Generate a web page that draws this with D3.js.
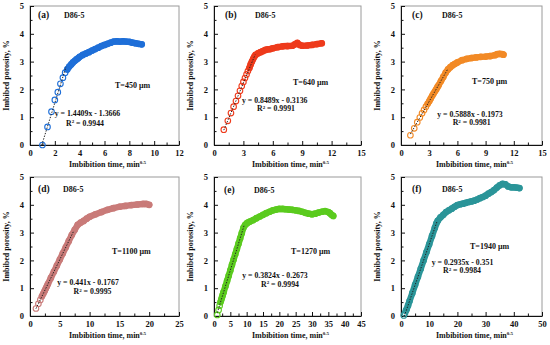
<!DOCTYPE html>
<html>
<head>
<meta charset="utf-8">
<script src="https://cdn.jsdelivr.net/npm/d3@7"></script>
<style>
    body { margin: 0; background: #fff; }
    svg text { font-family: "Liberation Serif", "Times New Roman", serif; font-weight: bold; fill: #111; }
</style>
</head>
<body>
<div id="chart"></div>
<script>
// ---------- data ----------
const panelIds = ["(a)", "(b)", "(c)", "(d)", "(e)", "(f)"];
const sampleName = "D86-5";
const thicknessLabels = ["T=450 μm", "T=640 μm", "T=750 μm", "T=1100 μm", "T=1270 μm", "T=1940 μm"];
const fitSlopes = [1.4409, 0.8489, 0.5888, 0.441, 0.3824, 0.2935];
const fitIntercepts = [-1.3666, -0.3136, -0.1973, -0.1767, -0.2673, -0.351];
const fitEquations = ["y = 1.4409x - 1.3666", "y = 0.8489x - 0.3136", "y = 0.5888x - 0.1973",
    "y = 0.441x - 0.1767", "y = 0.3824x - 0.2673", "y = 0.2935x - 0.351"];
const fitR2 = ["0.9944", "0.9991", "0.9981", "0.9995", "0.9994", "0.9984"];
const fitRanges = [[0.95, 2.9], [1, 4.2], [1, 5], [1, 7.3], [1, 9.3], [1.2, 12.8]];
const seriesColors = ["#1f6fd8", "#ee3b1c", "#f28a26", "#c97b79", "#5bcb1f", "#2b9599"];
const xTickValues = [
    [0, 2, 4, 6, 8, 10, 12],
    [0, 3, 6, 9, 12, 15],
    [0, 3, 6, 9, 12, 15],
    [0, 5, 10, 15, 20, 25],
    [0, 5, 10, 15, 20, 25, 30, 35, 40, 45],
    [0, 10, 20, 30, 40, 50]
];
const yTickValues = [0, 1, 2, 3, 4, 5];

// (a) T=450 um : separate circles, then the dense run
const aOpenX = [1, 1.41, 1.73, 2, 2.24, 2.45, 2.65, 2.83];
const aOpenY = [0, 0.65, 1.2, 1.62, 1.9, 2.2, 2.42, 2.6];
const aBandX = [3, 3.16, 3.32, 3.46, 3.61, 3.74, 3.87, 4, 4.25, 4.5, 4.75, 5, 5.25, 5.5, 5.75, 6,
    6.25, 6.5, 6.75, 7, 7.25, 7.5, 7.75, 8, 8.25, 8.5, 8.75, 9];
const aBandY = [2.72, 2.82, 2.9, 2.97, 3.03, 3.08, 3.12, 3.17, 3.24, 3.29, 3.34, 3.4, 3.45, 3.5, 3.56, 3.6,
    3.64, 3.68, 3.72, 3.73, 3.72, 3.73, 3.72, 3.71, 3.68, 3.66, 3.64, 3.62];

// (b) T=640 um
const bOpenX = [1, 1.41, 1.73, 2, 2.24, 2.45, 2.65, 2.83, 3, 3.16, 3.32, 3.46];
const bOpenY = [0.55, 0.87, 1.15, 1.38, 1.58, 1.77, 1.95, 2.12, 2.27, 2.41, 2.54, 2.66];
const bBandX = [3.61, 3.74, 3.87, 4, 4.12, 4.24, 4.5, 4.75, 5, 5.25, 5.5, 5.75, 6, 6.5, 7, 7.5, 8,
    8.25, 8.5, 8.75, 9, 9.5, 10, 10.5, 11];
const bBandY = [2.77, 2.9, 3.0, 3.1, 3.18, 3.24, 3.3, 3.34, 3.38, 3.42, 3.44, 3.45, 3.48, 3.52, 3.55, 3.56, 3.57,
    3.62, 3.67, 3.6, 3.57, 3.58, 3.6, 3.63, 3.66];

// (c) T=750 um
const cOpenX = [1, 1.41, 1.73, 2, 2.24, 2.45, 2.65];
const cOpenY = [0.35, 0.6, 0.82, 0.99, 1.14, 1.26, 1.38];
const cBandX = [2.83, 3, 3.16, 3.32, 3.46, 3.61, 3.74, 3.87, 4, 4.25, 4.5, 4.75, 5, 5.25, 5.5, 5.75, 6,
    6.5, 7, 7.5, 8, 8.5, 9, 9.5, 10, 10.25, 10.5, 10.75, 10.9];
const cBandY = [1.48, 1.57, 1.67, 1.77, 1.85, 1.93, 2.0, 2.08, 2.15, 2.3, 2.45, 2.6, 2.72, 2.8, 2.87, 2.92, 2.97,
    3.05, 3.1, 3.13, 3.15, 3.17, 3.18, 3.2, 3.23, 3.27, 3.28, 3.27, 3.25];

// (d) T=1100 um
const dOpenX = [1, 1.41, 1.73];
const dOpenY = [0.27, 0.44, 0.58];
const dBandX = [2, 2.24, 2.45, 2.65, 2.83, 3, 3.5, 4, 4.5, 5, 5.5, 6, 6.5, 7, 7.5, 8, 8.5, 9, 9.5, 10,
    11, 12, 13, 14, 15, 16, 17, 18, 19, 19.5, 20];
const dBandY = [0.71, 0.81, 0.9, 0.99, 1.07, 1.15, 1.37, 1.59, 1.81, 2.03, 2.25, 2.47, 2.69, 2.91, 3.1, 3.28,
    3.36, 3.42, 3.5, 3.57, 3.66, 3.74, 3.82, 3.88, 3.93, 3.96, 3.99, 4.01, 4.03, 4.03, 4.0];

// (e) T=1270 um
const eOpenX = [1, 1.41, 1.73];
const eOpenY = [0.04, 0.22, 0.37];
const eBandX = [2, 2.24, 2.45, 2.65, 2.83, 3, 3.5, 4, 4.5, 5, 5.5, 6, 6.5, 7, 7.5, 8, 8.5, 9, 9.5, 10,
    10.5, 11, 12, 13, 14, 15, 16, 17, 18, 19, 20, 21, 22, 23, 24, 25, 26, 27, 28, 29, 30, 31, 32, 33, 34,
    35, 35.5, 36, 36.5];
const eBandY = [0.5, 0.59, 0.67, 0.75, 0.82, 0.88, 1.07, 1.26, 1.45, 1.64, 1.84, 2.03, 2.22, 2.41, 2.6, 2.79,
    2.98, 3.17, 3.27, 3.33, 3.37, 3.4, 3.45, 3.52, 3.58, 3.64, 3.7, 3.75, 3.8, 3.83, 3.85, 3.85, 3.84, 3.83,
    3.82, 3.8, 3.78, 3.75, 3.71, 3.68, 3.66, 3.68, 3.72, 3.75, 3.77, 3.74, 3.7, 3.64, 3.6];

// (f) T=1940 um
const fOpenX = [1, 1.41, 1.73];
const fOpenY = [0.02, 0.1, 0.19];
const fBandX = [2, 2.5, 3, 4, 5, 6, 7, 8, 9, 10, 11, 12, 12.5, 13, 14, 15, 16, 17, 18, 19, 20, 21, 22,
    23, 24, 25, 26, 27, 28, 29, 30, 31, 32, 33, 34, 35, 36, 37, 38, 39, 40, 41, 42];
const fBandY = [0.24, 0.38, 0.53, 0.82, 1.12, 1.41, 1.7, 2.0, 2.29, 2.58, 2.88, 3.17, 3.32, 3.42, 3.55, 3.64,
    3.74, 3.8, 3.86, 3.93, 3.99, 4.02, 4.04, 4.07, 4.1, 4.12, 4.15, 4.19, 4.24, 4.28, 4.33, 4.4, 4.46, 4.53,
    4.62, 4.7, 4.75, 4.74, 4.66, 4.63, 4.63, 4.62, 4.6];

const openX = [aOpenX, bOpenX, cOpenX, dOpenX, eOpenX, fOpenX];
const openY = [aOpenY, bOpenY, cOpenY, dOpenY, eOpenY, fOpenY];
const bandX = [aBandX, bBandX, cBandX, dBandX, eBandX, fBandX];
const bandY = [aBandY, bBandY, cBandY, dBandY, eBandY, fBandY];

// ---------- layout (pixels) ----------
const frames = [
    {left: 30, right: 179, top: 6, bottom: 145},
    {left: 214, right: 361, top: 6, bottom: 145},
    {left: 401, right: 542, top: 6, bottom: 145},
    {left: 30, right: 179, top: 177, bottom: 316},
    {left: 214, right: 361, top: 177, bottom: 316},
    {left: 401, right: 542, top: 177, bottom: 316}
];
// offsets from the frame's left/top corner
const idPos = [[8, 12], [11, 12], [11, 12], [8, 15], [10, 16], [11, 15]];
const namePos = [[34, 12], [41, 12], [41, 12], [33, 15], [40, 16], [41, 15]];
const thickPos = [[85, 82], [79, 78.5], [71, 78], [82, 77], [77, 77], [69, 72]];
const eqPos = [[57.5, 109.5], [60.7, 96.5], [69, 110.8], [58, 108.2], [61, 101.2], [61.5, 87.8]];
const r2Pos = [[55, 119.5], [62, 105], [70.7, 119], [62.5, 117], [66, 109.7], [61, 96.3]];


class ImbibitionPanel {
    constructor(svg, i) {
        this.svg = svg;
        this.i = i;
        this.frame = frames[i];

        this.initVis();
    }

    initVis() {
        let vis = this;
        let f = vis.frame, i = vis.i;

        vis.g = vis.svg.append("g");

        let xTicks = xTickValues[i];
        vis.xScale = d3.scaleLinear().domain([0, d3.max(xTicks)]).range([f.left, f.right]);
        vis.yScale = d3.scaleLinear().domain([0, 5]).range([f.bottom, f.top]);

        // grey box first, black axes over it
        vis.g.append("rect")
            .attr("x", f.left).attr("y", f.top)
            .attr("width", f.right - f.left).attr("height", f.bottom - f.top)
            .attr("fill", "none").attr("stroke", "#9a9a9a").attr("stroke-width", 1);

        let step = xTicks[1] - xTicks[0];
        let xMinor = d3.range(step / 2, d3.max(xTicks), step);
        let yMinor = d3.range(0.5, 5, 1);

        vis.g.append("g")
            .attr("transform", `translate(0,${f.bottom})`)
            .call(d3.axisBottom(vis.xScale).tickValues(xMinor).tickSizeInner(-2.5).tickSizeOuter(0).tickFormat(""))
            .call(g => g.select(".domain").remove());
        vis.g.append("g")
            .attr("transform", `translate(${f.left},0)`)
            .call(d3.axisLeft(vis.yScale).tickValues(yMinor).tickSizeInner(-2.5).tickSizeOuter(0).tickFormat(""))
            .call(g => g.select(".domain").remove());

        vis.xAxis = vis.g.append("g")
            .attr("class", "x axis")
            .attr("transform", `translate(0,${f.bottom})`)
            .call(d3.axisBottom(vis.xScale).tickValues(xTicks).tickFormat(d3.format("d"))
                .tickSizeInner(-4).tickSizeOuter(0).tickPadding(5));
        vis.yAxis = vis.g.append("g")
            .attr("class", "y axis")
            .attr("transform", `translate(${f.left},0)`)
            .call(d3.axisLeft(vis.yScale).tickValues(yTickValues).tickFormat(d3.format("d"))
                .tickSizeInner(-4).tickSizeOuter(0).tickPadding(6));

        vis.g.selectAll(".axis text")
            .attr("font-size", 8.5)
            .attr("font-family", null);
        vis.g.selectAll(".axis path, .axis line, .tick line").attr("stroke", "#111");

        // axis titles
        let xt = vis.g.append("text")
            .attr("x", (f.left + f.right) / 2 + 3)
            .attr("y", f.bottom + 21.5)
            .attr("text-anchor", "middle")
            .attr("font-size", 8)
            .text("Imbibition time, min");
        xt.append("tspan").attr("dy", -3).attr("font-size", 5).text("0.5");

        vis.g.append("text")
            .attr("transform", `translate(${f.left - 21},${(f.top + f.bottom) / 2}) rotate(-90)`)
            .attr("text-anchor", "middle")
            .attr("font-size", 8)
            .text("Imbibed porosity, %");

        vis.drawData();
        vis.drawLabels();
    }

    drawData() {
        let vis = this;
        let i = vis.i;
        let color = seriesColors[i];

        let open = openX[i].map((x, k) => ({x: x, y: openY[i][k]}));
        let band = bandX[i].map((x, k) => ({x: x, y: bandY[i][k]}));

        let line = d3.line()
            .x(d => vis.xScale(d.x))
            .y(d => vis.yScale(d.y));

        // the dense run of overlapping circles reads as a thick band
        vis.g.append("path")
            .datum(band)
            .attr("d", line)
            .attr("fill", "none")
            .attr("stroke", color)
            .attr("stroke-width", 6.4)
            .attr("stroke-linecap", "round")
            .attr("stroke-linejoin", "round");

        vis.g.selectAll(".pt")
            .data(open.concat(band))
            .enter().append("circle")
            .attr("class", "pt")
            .attr("cx", d => vis.xScale(d.x))
            .attr("cy", d => vis.yScale(d.y))
            .attr("r", 2.8)
            .attr("fill", "none")
            .attr("stroke", color)
            .attr("stroke-width", 1.1);

        // linear fit, dotted
        let fit = fitRanges[i].map(x => ({x: x, y: fitSlopes[i] * x + fitIntercepts[i]}));
        vis.g.append("path")
            .datum(fit)
            .attr("d", line)
            .attr("fill", "none")
            .attr("stroke", "#222")
            .attr("stroke-width", 1)
            .attr("stroke-dasharray", "1.4,1.4");
    }

    drawLabels() {
        let vis = this;
        let f = vis.frame, i = vis.i;

        vis.g.append("text")
            .attr("x", f.left + idPos[i][0]).attr("y", f.top + idPos[i][1])
            .attr("font-size", 9.5)
            .text(panelIds[i]);
        vis.g.append("text")
            .attr("x", f.left + namePos[i][0]).attr("y", f.top + namePos[i][1])
            .attr("font-size", 8)
            .text(sampleName);
        vis.g.append("text")
            .attr("x", f.left + thickPos[i][0]).attr("y", f.top + thickPos[i][1])
            .attr("font-size", 8)
            .text(thicknessLabels[i]);
        vis.g.append("text")
            .attr("x", f.left + eqPos[i][0]).attr("y", f.top + eqPos[i][1])
            .attr("text-anchor", "middle")
            .attr("font-size", 7.8)
            .text(fitEquations[i]);
        let r2 = vis.g.append("text")
            .attr("x", f.left + r2Pos[i][0]).attr("y", f.top + r2Pos[i][1])
            .attr("text-anchor", "middle")
            .attr("font-size", 7.8)
            .text("R");
        r2.append("tspan").attr("dy", -2.5).attr("font-size", 5).text("2");
        r2.append("tspan").attr("dy", 2.5).text(" = " + fitR2[i]);
    }
}

let svg = d3.select("#chart").append("svg")
    .attr("width", 550)
    .attr("height", 345);

panelIds.forEach((id, i) => new ImbibitionPanel(svg, i));
</script>
</body>
</html>
